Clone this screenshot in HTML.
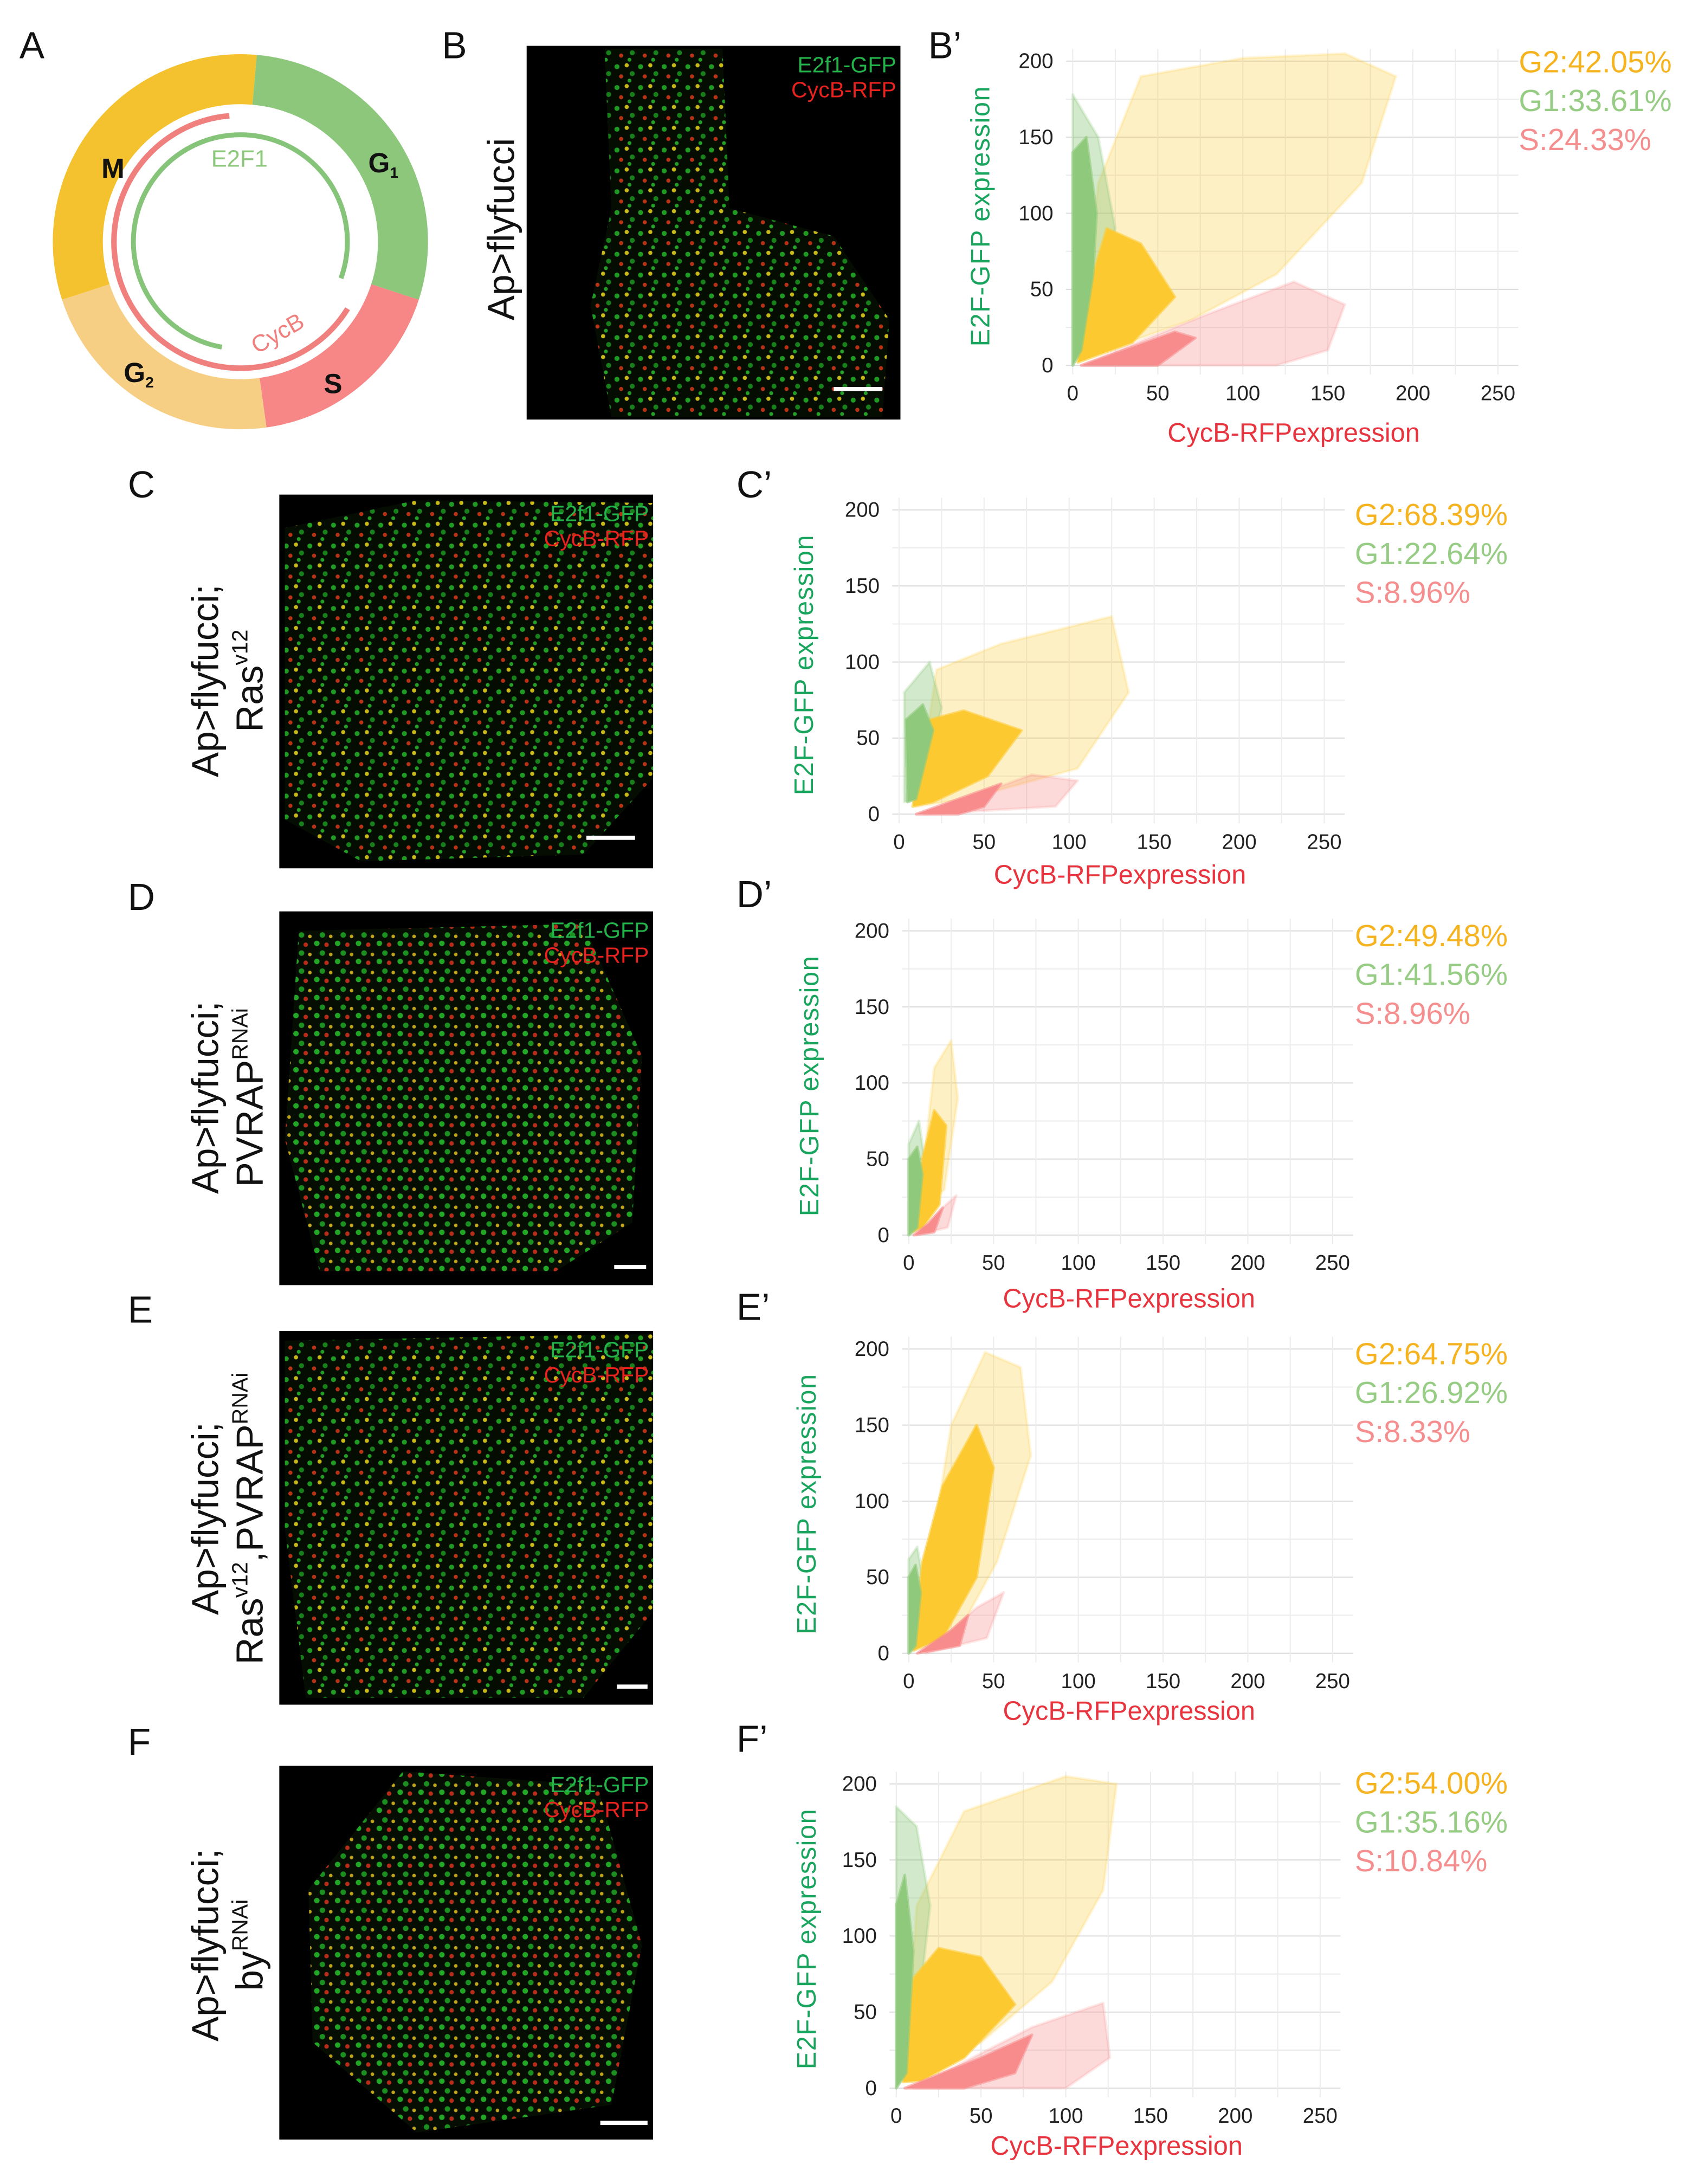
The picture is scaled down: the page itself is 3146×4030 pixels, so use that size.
<!DOCTYPE html>
<html><head><meta charset="utf-8">
<style>
html,body{margin:0;padding:0;background:#fff;}
svg{display:block;font-family:"Liberation Sans",sans-serif;}
</style></head>
<body>
<svg id="fig" xmlns="http://www.w3.org/2000/svg" width="3146" height="4030" viewBox="0 0 1227 1572" preserveAspectRatio="none">
<defs>
<pattern id="cells" width="17" height="15" patternUnits="userSpaceOnUse">
<rect width="17" height="15" fill="#050d02"/>
<circle cx="2" cy="3" r="1.8" fill="#1f9a22"/>
<circle cx="9" cy="2" r="1.5" fill="#c8b818"/>
<circle cx="13" cy="8" r="1.8" fill="#17801a"/>
<circle cx="5" cy="10" r="1.5" fill="#b83216"/>
<circle cx="11" cy="13" r="1.4" fill="#24a026"/>
</pattern>
<pattern id="cells2" width="15" height="13" patternUnits="userSpaceOnUse">
<rect width="15" height="13" fill="#060e03"/>
<circle cx="3" cy="3" r="2" fill="#22a626"/>
<circle cx="10" cy="4" r="1.6" fill="#b82c1a"/>
<circle cx="7" cy="10" r="2" fill="#1b9020"/>
<circle cx="13" cy="11" r="1.3" fill="#c0a41c"/>
</pattern>
</defs>
<g id="root"></g>
</svg>
<script>
// ---------------- chart data (data coordinates: CycB-RFP, E2F-GFP) ----------------
const xTicks = [0, 50, 100, 150, 200, 250];
const yTicks = [0, 50, 100, 150, 200];
const panelIds = ['b', 'c', 'd', 'e', 'f'];
const pctG2 = ['G2:42.05%', 'G2:68.39%', 'G2:49.48%', 'G2:64.75%', 'G2:54.00%'];
const pctG1 = ['G1:33.61%', 'G1:22.64%', 'G1:41.56%', 'G1:26.92%', 'G1:35.16%'];
const pctS  = ['S:24.33%', 'S:8.96%', 'S:8.96%', 'S:8.33%', 'S:10.84%'];
const g1Sparse = [
 [[0,0],[0,178],[15,150],[25,90],[10,20]],
 [[3,8],[3,80],[18,100],[25,70],[12,10]],
 [[0,0],[0,60],[6,75],[10,45],[5,4]],
 [[0,0],[0,62],[5,70],[9,45],[5,4]],
 [[0,0],[0,185],[12,172],[20,120],[10,20]]
];
const g1Dense = [
 [[0,0],[0,140],[8,150],[14,100],[12,60],[5,10]],
 [[5,8],[4,62],[14,72],[20,55],[10,10]],
 [[0,0],[0,50],[5,58],[8,40],[5,5]],
 [[0,0],[0,50],[4,58],[7,40],[4,5]],
 [[0,0],[0,120],[5,140],[10,90],[6,10]]
];
const g2Sparse = [
 [[3,3],[15,120],[40,190],[100,202],[160,205],[190,190],[170,120],[120,60],[70,30]],
 [[10,5],[22,95],[60,112],[125,130],[135,80],[105,30],[40,10]],
 [[5,10],[15,110],[25,128],[29,90],[21,30]],
 [[5,10],[25,150],[45,198],[66,188],[72,130],[52,60],[30,15]],
 [[5,5],[12,120],[40,182],[100,205],[130,200],[122,130],[92,70],[50,30]]
];
const g2Dense = [
 [[3,2],[12,60],[20,90],[40,80],[60,45],[35,15]],
 [[8,5],[18,62],[38,68],[72,55],[52,25],[20,8]],
 [[2,2],[8,50],[15,82],[22,72],[18,20],[8,5]],
 [[3,2],[8,60],[20,110],[40,150],[50,122],[40,50],[20,10]],
 [[4,4],[10,72],[25,92],[50,86],[70,55],[40,20],[15,5]]
];
const sSparse = [
 [[5,0],[80,34],[130,55],[160,40],[150,10],[120,0]],
 [[15,0],[78,26],[105,22],[92,5]],
 [[5,0],[22,20],[28,26],[23,5]],
 [[10,0],[40,30],[56,40],[46,10]],
 [[10,0],[80,40],[122,56],[126,20],[100,0]]
];
const sDense = [
 [[5,0],[60,22],[72,18],[50,0]],
 [[10,0],[40,12],[60,20],[50,5],[35,0]],
 [[3,0],[12,8],[20,18],[15,2]],
 [[5,0],[25,15],[35,25],[30,5]],
 [[5,0],[50,20],[80,35],[70,10],[40,0]]
];

// ---------------- layout ----------------
const NS = 'http://www.w3.org/2000/svg';
const root = document.getElementById('root');
function el(tag, attrs, parent, text){
  const e = document.createElementNS(NS, tag);
  for (const k in attrs) e.setAttribute(k, attrs[k]);
  if (text !== undefined) e.textContent = text;
  (parent || root).appendChild(e);
  return e;
}
const plotBoxes = [
 {x0:772, x1:1078, y0:263, y1:44, ytitle:705, xtitleY:318, letter:"B’", lx:668, ly:42, px:1093, py:52},
 {x0:647, x1:953, y0:586, y1:367, ytitle:578, xtitleY:636, letter:"C’", lx:530, ly:358, px:975, py:378},
 {x0:654, x1:959, y0:889, y1:670, ytitle:582, xtitleY:941, letter:"D’", lx:530, ly:653, px:975, py:681},
 {x0:654, x1:959, y0:1190, y1:971, ytitle:580, xtitleY:1238, letter:"E’", lx:530, ly:950, px:975, py:982},
 {x0:645, x1:950, y0:1503, y1:1284, ytitle:580, xtitleY:1551, letter:"F’", lx:530, ly:1261, px:975, py:1291}
];
const COL_G1 = '#8fc97c', COL_G2 = '#fdc930', COL_S = '#f88c8c';

plotBoxes.forEach((b, i) => {
  const sx = v => b.x0 + (b.x1 - b.x0) * v / 250;
  const sy = v => b.y0 + (b.y1 - b.y0) * v / 200;
  const g = el('g', {});
  
  
  for (let v = 0; v <= 200; v += 25) {
    const ln = el('line', {x1: sx(-4), x2: sx(262), y1: sy(v), y2: sy(v), stroke: v % 50 === 0 ? '#dcdcdc' : '#ececec', 'stroke-width': 0.8}, g);
    
    
  }
  for (let v = 0; v <= 250; v += 25) {
    const ln = el('line', {x1: sx(v), x2: sx(v), y1: sy(-6), y2: sy(208), stroke: '#ececec', 'stroke-width': 0.8}, g);
    
    
  }
  const poly = (pts, fill, op, name) => {
    const p = el('polygon', {points: pts.map(q => sx(q[0]) + ',' + sy(q[1])).join(' '), fill: fill, 'fill-opacity': op, stroke: fill, 'stroke-opacity': op * 0.6, 'stroke-width': 2, 'stroke-linejoin': 'round'}, g);
    
    
  };
  poly(g2Sparse[i], COL_G2, 0.28, 'g2-cloud-sparse');
  poly(sSparse[i], COL_S, 0.32, 's-cloud-sparse');
  poly(g1Sparse[i], COL_G1, 0.4, 'g1-cloud-sparse');
  poly(g2Dense[i], COL_G2, 1, 'g2-cloud-dense');
  poly(sDense[i], COL_S, 1, 's-cloud-dense');
  poly(g1Dense[i], COL_G1, 1, 'g1-cloud-dense');
  xTicks.forEach(v => {
    const t = el('text', {x: sx(v), y: b.y0 + 25, 'font-size': 15, 'text-anchor': 'middle', fill: '#222'}, g, String(v));
    
    
  });
  yTicks.forEach(v => {
    const t = el('text', {x: b.x0 - 14, y: sy(v) + 5, 'font-size': 15, 'text-anchor': 'end', fill: '#222'}, g, String(v));
    
    
  });
  const yt = el('text', {x: 0, y: 0, 'font-size': 19, 'text-anchor': 'middle', fill: '#1aa55e', transform: 'translate(' + (b.ytitle + 7) + ',' + ((b.y0 + b.y1) / 2 + 2) + ') rotate(-90)', 'letter-spacing': 0.6}, g, 'E2F-GFP expression');
  
  
  const xt = el('text', {x: (b.x0 + b.x1) / 2 + 6, y: b.xtitleY, 'font-size': 19, 'text-anchor': 'middle', fill: '#e8343e'}, g, 'CycB-RFPexpression');
  
  
  const lt = el('text', {x: b.lx, y: b.ly, 'font-size': 27, fill: '#111'}, g, b.letter);
  
  
  [[pctG2[i], '#f6b320'], [pctG1[i], '#97cc84'], [pctS[i], '#f58f8f']].forEach((p, k) => {
    const t = el('text', {x: b.px, y: b.py + k * 28, 'font-size': 22, fill: p[1]}, g, p[0]);
    
    
  });
});
</script>
<script>
(function(){
const NS = 'http://www.w3.org/2000/svg';
const root = document.getElementById('root');
function el(tag, attrs, parent, text){
  const e = document.createElementNS(NS, tag);
  for (const k in attrs) e.setAttribute(k, attrs[k]);
  if (text !== undefined) e.textContent = text;
  (parent || root).appendChild(e);
  return e;
}
const imgs = [
 {x:379, y:33, w:269, h:269, tissue:'M435,35 L520,35 L525,150 L600,170 L640,230 L635,300 L440,300 L425,220 L440,150 Z', pat:'cells', bar:[600,280,635], label:'B', lx:318, ly:42, lines:['Ap>flyfucci'], tx:[370], ty:165},
 {x:201, y:356, w:269, h:269, tissue:'M205,380 L300,360 L470,362 L470,560 L420,615 L260,620 L205,590 Z', pat:'cells', bar:[422,603,457], label:'C', lx:92, ly:358, lines:['Ap>flyfucci;','Ras|v12'], tx:[157,189], ty:490},
 {x:201, y:656, w:269, h:269, tissue:'M215,670 L420,665 L462,760 L455,880 L400,915 L230,915 L205,820 Z', pat:'cells2', bar:[442,912,465], label:'D', lx:92, ly:655, lines:['Ap>flyfucci;','PVRAP|RNAi'], tx:[157,189], ty:790},
 {x:201, y:958, w:269, h:269, tissue:'M205,965 L470,960 L470,1160 L420,1222 L220,1222 L205,1100 Z', pat:'cells', bar:[444,1214,466], label:'E', lx:92, ly:952, lines:['Ap>flyfucci;','Ras|v12|,PVRAP|RNAi'], tx:[157,189], ty:1093},
 {x:201, y:1271, w:269, h:269, tissue:'M290,1275 L430,1285 L462,1400 L440,1515 L300,1535 L225,1470 L222,1360 Z', pat:'cells2', bar:[432,1528,466], label:'F', lx:92, ly:1263, lines:['Ap>flyfucci;','by|RNAi'], tx:[157,189], ty:1400}
];
imgs.forEach((m, i) => {
  const g = el('g', {});
  
  
  el('rect', {x:m.x, y:m.y, width:m.w, height:m.h, fill:'#000'}, g);
  el('path', {d:m.tissue, fill:'url(#' + m.pat + ')'}, g);
  const t1 = el('text', {x:m.x + m.w - 3, y:m.y + 19, 'font-size':16, 'text-anchor':'end', fill:'#22b34a'}, g, 'E2f1-GFP');
  
  
  const t2 = el('text', {x:m.x + m.w - 3, y:m.y + 37, 'font-size':16, 'text-anchor':'end', fill:'#e8221e'}, g, 'CycB-RFP');
  
  
  const sb = el('line', {x1:m.bar[0], x2:m.bar[2], y1:m.bar[1], y2:m.bar[1], stroke:'#fff', 'stroke-width':3}, g);
  
  
  const pl = el('text', {x:m.lx, y:m.ly, 'font-size':27, fill:'#111'}, root, m.label);
  
  
  m.lines.forEach((ln, k) => {
    const t = el('text', {x:0, y:0, 'font-size':27, 'text-anchor':'middle', fill:'#111', transform:'translate(' + m.tx[k] + ',' + m.ty + ') rotate(-90)'}, root);
    
    
    const parts = ln.split('|');
    parts.forEach((p, j) => {
      el('tspan', j % 2 ? {'font-size':16, dy:-11} : (j > 0 ? {dy:11} : {}), t, p);
    });
  });
});

const cx = 173, cy = 174, R = 135, r = 99;
function pt(rad, deg){ const a = (deg - 90) * Math.PI / 180; return [cx + rad * Math.cos(a), cy + rad * Math.sin(a)]; }
function seg(a0, a1){
  const p0 = pt(R, a0), p1 = pt(R, a1), q1 = pt(r, a1), q0 = pt(r, a0);
  const large = (a1 - a0) > 180 ? 1 : 0;
  return 'M' + p0 + ' A' + R + ',' + R + ' 0 ' + large + ' 1 ' + p1 + ' L' + q1 + ' A' + r + ',' + r + ' 0 ' + large + ' 0 ' + q0 + ' Z';
}
const ring = el('g', {});


[[5,108,'#8cc77c','g1-segment'],[108,172,'#f68786','s-segment'],[172,252,'#f7cf84','g2-segment'],[252,365,'#f4c22e','m-segment']].forEach(s => {
  const p = el('path', {d: seg(s[0], s[1]), fill: s[2]}, ring);
  
  
});
function arc(rad, a0, a1){
  const p0 = pt(rad, a0), p1 = pt(rad, a1);
  return 'M' + p0 + ' A' + rad + ',' + rad + ' 0 ' + ((a1 - a0) > 180 ? 1 : 0) + ' 1 ' + p1;
}
const ra = el('path', {d: arc(91, 122, 355), fill:'none', stroke:'#f0807e', 'stroke-width':4}, ring);


const ga = el('path', {d: arc(77, 190, 470), fill:'none', stroke:'#86c47a', 'stroke-width':3.5}, ring);


[['M',73,128,20,'#111'],['G',265,124,20,'#111'],['G',89,275,20,'#111'],['S',233,283,20,'#111']].forEach((l, k) => {
  const t = el('text', {x:l[1], y:l[2], 'font-size':l[3], 'font-weight':'bold', fill:l[4]}, ring, l[0]);
  
  
  if (k === 1 || k === 2) el('tspan', {'font-size':11, dy:4}, t, k === 1 ? '1' : '2');
});
const e2 = el('text', {x:152, y:120, 'font-size':17, fill:'#8cc77c'}, ring, 'E2F1');


const cb = el('text', {x:0, y:0, 'font-size':17, fill:'#f0807e', transform:'translate(185,255) rotate(-30)'}, ring, 'CycB');


const la = el('text', {x:14, y:42, 'font-size':27, fill:'#111'}, root, 'A');


})();
</script>
</body></html>
